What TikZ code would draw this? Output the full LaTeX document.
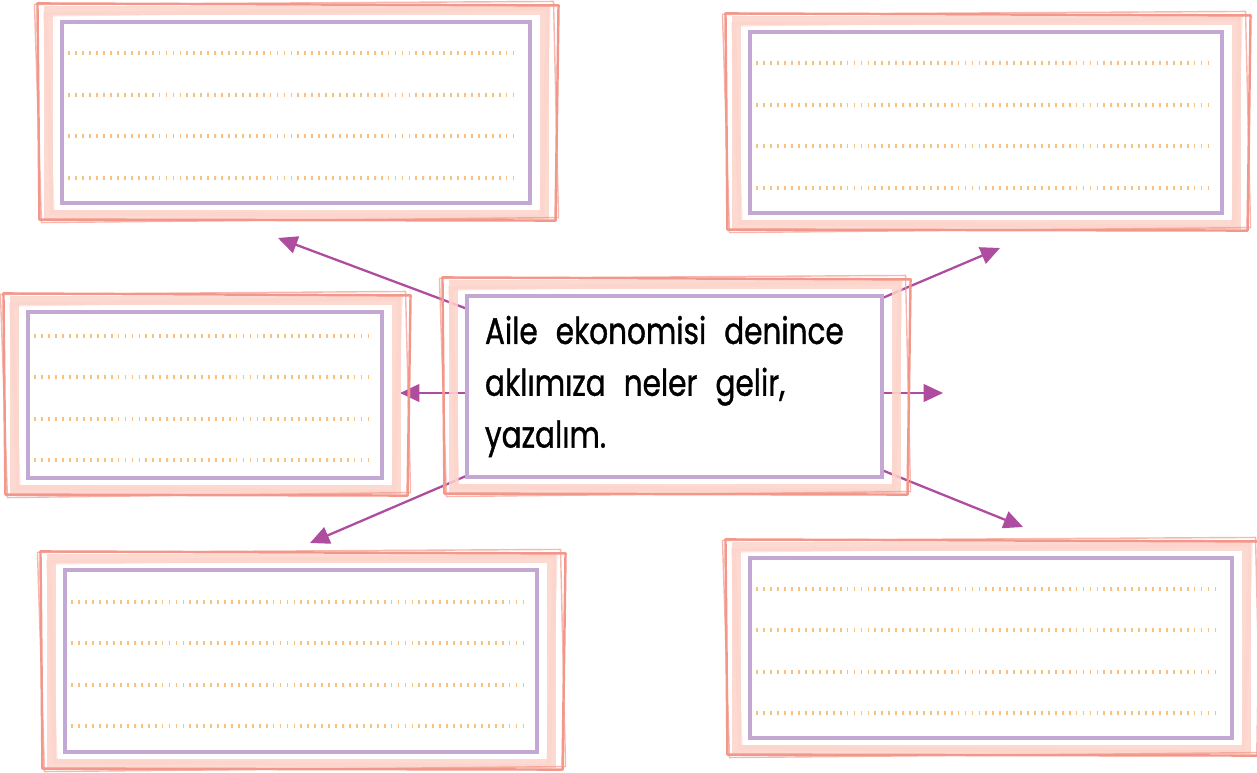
\documentclass[tikz,border=0pt]{standalone}
\usepackage{fontspec}
\setmainfont{Poppins}[FakeStretch=0.8, FakeBold=1]
\usetikzlibrary{arrows.meta,backgrounds}
\definecolor{framepink}{HTML}{F3978B}
\definecolor{bandpink}{HTML}{FCD2C9}
\definecolor{boxpurple}{HTML}{C3A8D3}
\definecolor{dotorange}{HTML}{F9C080}
\definecolor{arrowpink}{HTML}{AE4CA0}
\newcommand{\gap}{\hspace{0.36cm}}
\tikzstyle{notebox} = [draw=boxpurple, fill=white, line width=1.8pt,
    rectangle, inner sep=0pt]
\tikzstyle{questionbox} = [notebox, inner sep=0.36cm, text width=7.58cm,
    minimum height=3.62cm, align=left, font=\fontsize{21}{29.5}\selectfont]
\tikzstyle{bandline} = [draw=bandpink, line width=5pt, opacity=0.85]
\tikzstyle{frameline} = [draw=framepink, line width=1.4pt, line join=round]
\tikzstyle{dotline} = [draw=dotorange, line width=2pt, dash pattern=on 1pt off 2.95pt]
\tikzstyle{linkarrow} = [draw=arrowpink, line width=1.3pt,
    -{Triangle[length=11pt,width=10pt]}]
\newcommand{\sketchframe}[1]{
    \draw[bandline] ([shift={(-12,-10)}]#1.north west) rectangle ([shift={(13,10)}]#1.south east);
    \draw[bandline, line width=2.5pt, opacity=0.6] ([shift={(-15,-6)}]#1.north west)
        -- ([shift={(17,-12)}]#1.north east) -- ([shift={(10,13)}]#1.south east)
        -- ([shift={(-8,8)}]#1.south west) -- cycle;
    \draw[frameline] ([shift={(-23,-17)}]#1.north west) -- ([shift={(27,-15)}]#1.north east)
        -- ([shift={(24,16)}]#1.south east) -- ([shift={(-21,15)}]#1.south west) -- cycle;
    \draw[frameline, line width=0.8pt, opacity=0.7] ([shift={(-26,-16)}]#1.north west)
        -- ([shift={(22,-19)}]#1.north east) -- ([shift={(27,13)}]#1.south east)
        -- ([shift={(-19,18)}]#1.south west) -- cycle;
}
\begin{document}
\begin{tikzpicture}[x=0.02cm, y=-0.02cm]
\useasboundingbox (0,0) rectangle (1257,773);
\node [notebox, minimum width=9.36cm, minimum height=3.62cm] (tl) at (296,112.5) {};
\node [notebox, minimum width=9.44cm, minimum height=3.62cm] (tr) at (986,122.5) {};
\node [notebox, minimum width=7.08cm, minimum height=3.32cm] (ml) at (205,395) {};
\node [notebox, minimum width=9.44cm, minimum height=3.64cm] (bl) at (301,661) {};
\node [notebox, minimum width=9.64cm, minimum height=3.60cm] (br) at (991,648) {};
\node [questionbox] (q) at (674.5,386.5) {
    \mbox{Aile\gap ekonomisi\gap denince}\\
    \mbox{aklımıza\gap neler\gap gelir,}\\
    \mbox{yazalım.}
};
\coordinate (ul) at (278,238);
\coordinate (ur) at (1000,248);
\coordinate (ll) at (400,393);
\coordinate (rr) at (943,393);
\coordinate (dl) at (310,543);
\coordinate (dr) at (1023,527);
\begin{scope}[on background layer]
    \draw[linkarrow] (q.center) -- (ul);
    \draw[linkarrow] (q.center) -- (ur);
    \draw[linkarrow] (q.center |- ll) -- (ll);
    \draw[linkarrow] (q.center |- rr) -- (rr);
    \draw[linkarrow] (q.center) -- (dl);
    \draw[linkarrow] (q.center) -- (dr);
\end{scope}
\foreach \n in {tl,tr,ml,bl,br,q}
    \sketchframe{\n};
\foreach \n in {tl,tr,ml,bl,br}
    \foreach \k in {-1.5,-0.5,0.5,1.5}
        \draw[dotline] ([shift={(8,\k*41.5+3)}]\n.west) -- ([shift={(-14,\k*41.5+3)}]\n.east);
\end{tikzpicture}
\end{document}
